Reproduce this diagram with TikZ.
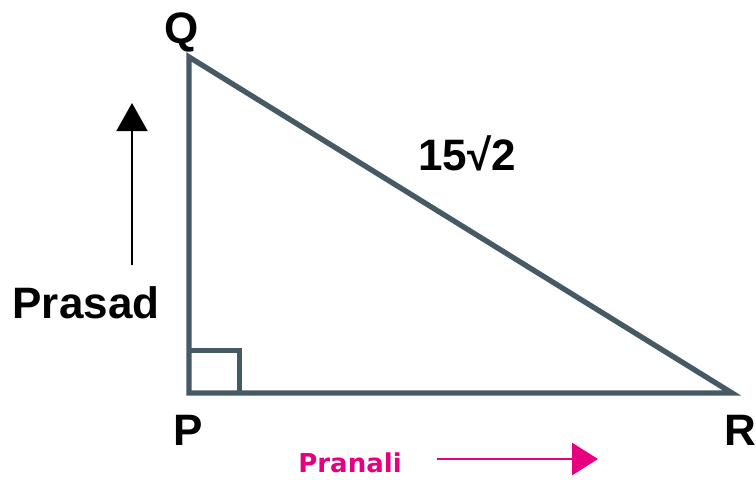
\documentclass[tikz,border=0pt]{standalone}
\usepackage{fontspec}
\setmainfont{Liberation Sans}
\newfontfamily\pranalifont{DejaVu Sans}
\usetikzlibrary{positioning, arrows.meta}
\definecolor{sidegray}{HTML}{455A64}
\definecolor{pranalipink}{HTML}{E6007E}

\begin{document}
\begin{tikzpicture}[
    x=0.75pt, y=-0.75pt,
    side/.style={draw=sidegray, line width=4pt, line join=miter},
    vertex/.style={font=\fontsize{33}{36}\selectfont\bfseries, anchor=base, inner sep=0pt},
    walk/.style={-{Triangle[length=21pt, width=23pt]}, line width=2.2pt},
    pwalk/.style={-{Triangle[length=19.5pt, width=24pt]}, line width=2.2pt, pranalipink}
]
    \useasboundingbox (0,0) rectangle (756,479);

    % Corners of the triangle
    \coordinate (P) at (189,393);
    \coordinate (Q) at (189,57);
    \coordinate (R) at (732,393);

    % Sides and right angle mark
    \draw[side] (P) -- (Q) -- (R) -- cycle;
    \draw[side] ([yshift=32pt]P) -| ([xshift=38pt]P);

    % Vertex labels
    \node[vertex] (qlabel) at (182,43) {Q};
    \node[vertex] (plabel) at (188,445) {P};
    \node[vertex] (rlabel) at (740,445) {R};
    \node[vertex] (hyp) at (467,170) {15√2};

    % Prasad walks north
    \node[vertex] (prasad) at (86,318) {Prasad};
    \coordinate (upfoot) at (132,265);
    \coordinate (uptip) at (132,103);
    \draw[walk] (upfoot) -- (uptip);

    % Pranali walks east
    \node[anchor=base, inner sep=0pt, text=pranalipink, font=\pranalifont\fontsize{19.5}{22}\selectfont\bfseries] (pranali) at (350,472) {Pranali};
    \coordinate (eastfoot) at (437,459);
    \coordinate (easttip) at (598,459);
    \draw[pwalk] (eastfoot) -- (easttip);
\end{tikzpicture}
\end{document}
